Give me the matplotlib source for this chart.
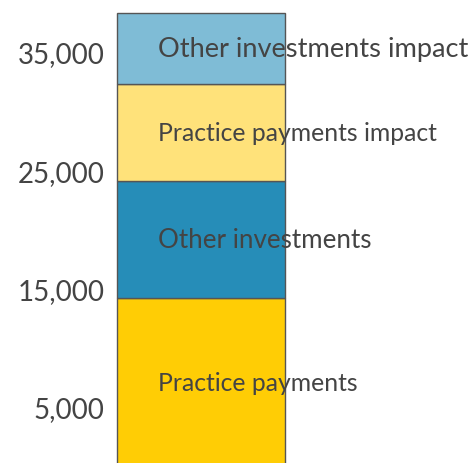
import matplotlib.pyplot as plt

# stacked contributions, bottom to top
segments = ['Practice payments', 'Other investments',
            'Practice payments impact', 'Other investments impact']
values = [14200, 9900, 8200, 6000]
colors = ['#FFCD05', '#268DB8', '#FFE27A', '#7FBCD6']
label_sizes = [17.8, 18.7, 17.8, 19.6]
ytick_values = [5000, 15000, 25000, 35000]
ytick_labels = ['5,000', '15,000', '25,000', '35,000']

plt.rcParams['font.family'] = ['Lato', 'DejaVu Sans']

total = sum(values)
fig = plt.figure(figsize=(4.73, 4.64), dpi=100)
ax = fig.add_axes([117 / 473, -3 / 464, 168 / 473, (464 - 14 + 3) / 464])

bottom = 0
for name, val, col, fs in zip(segments, values, colors, label_sizes):
    ax.bar(0, val, bottom=bottom, width=1.0, color=col,
           edgecolor='#555555', linewidth=1.0, clip_on=False)
    ax.text(-0.255, bottom + val / 2, name, ha='left', va='center',
            fontsize=fs, color='#444444', clip_on=False)
    bottom += val

ax.set_xlim(-0.5, 0.5)
ax.set_ylim(0, total)
ax.set_xticks([])
ax.set_yticks(ytick_values)
ax.set_yticklabels(ytick_labels, fontsize=20, color='#444444')
ax.tick_params(axis='y', length=0, pad=9)
for s in ax.spines.values():
    s.set_visible(False)

fig.savefig('out.png', dpi=100)
